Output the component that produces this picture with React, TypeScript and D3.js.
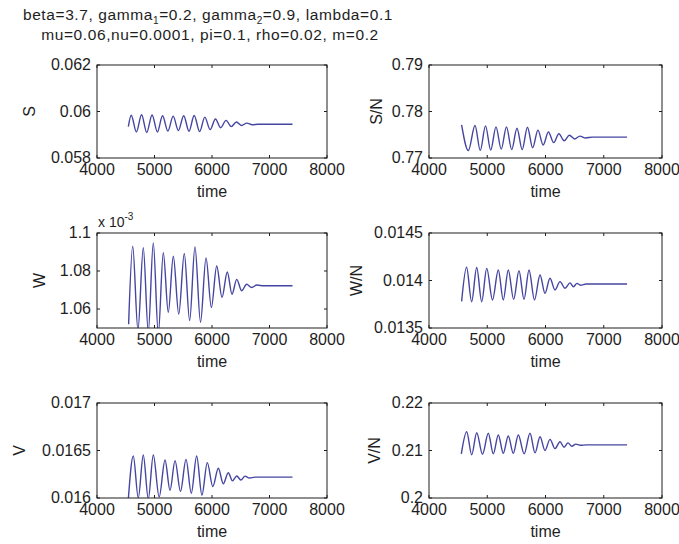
import React from 'react';
import * as d3 from 'd3';

const WIDTH = 679;
const HEIGHT = 544;

const timeTicks = [4000, 5000, 6000, 7000, 8000];

// S
const sTime = [4545, 4595, 4685, 4775, 4865, 4958, 5050, 5140, 5232, 5325, 5415, 5508, 5600, 5690, 5785, 5875, 5968, 6060, 6150, 6245, 6335, 6425, 6515, 6605, 6700, 6800, 7400];
const sValues = [0.05935, 0.05984, 0.05912, 0.05986, 0.0591, 0.05985, 0.05912, 0.05982, 0.05916, 0.0598, 0.05918, 0.05982, 0.05915, 0.05983, 0.05914, 0.05976, 0.05922, 0.05968, 0.0593, 0.05962, 0.05935, 0.05955, 0.0594, 0.0595, 0.05943, 0.05945, 0.05945];

// S/N
const snTime = [4560, 4675, 4790, 4880, 4970, 5060, 5150, 5240, 5330, 5420, 5510, 5600, 5690, 5780, 5870, 5960, 6050, 6140, 6230, 6320, 6410, 6500, 6590, 6690, 6800, 7400];
const snValues = [0.7771, 0.7716, 0.777, 0.7716, 0.7769, 0.7717, 0.7767, 0.7719, 0.7767, 0.7718, 0.7764, 0.7718, 0.7766, 0.7722, 0.776, 0.7728, 0.7756, 0.7733, 0.7752, 0.7737, 0.7749, 0.7741, 0.7747, 0.7743, 0.7745, 0.7745];

// W (x 10^-3)
const wTime = [4550, 4621, 4712, 4805, 4892, 4979, 5066, 5153, 5240, 5327, 5422, 5518, 5611, 5704, 5800, 5896, 5989, 6082, 6174, 6266, 6348, 6430, 6516, 6603, 6690, 6780, 6900, 7400];
const wValues = [1.052, 1.093, 1.049, 1.0922, 1.048, 1.0948, 1.047, 1.0896, 1.0582, 1.0878, 1.0573, 1.0892, 1.0539, 1.0927, 1.053, 1.0869, 1.0608, 1.0826, 1.0661, 1.0795, 1.0678, 1.0756, 1.0696, 1.073, 1.0713, 1.0726, 1.0722, 1.0722];

// W/N
const wnTime = [4560, 4645, 4732, 4819, 4905, 4991, 5090, 5190, 5275, 5361, 5453, 5545, 5631, 5717, 5811, 5906, 5991, 6077, 6163, 6249, 6335, 6421, 6480, 6540, 6600, 6700, 7400];
const wnValues = [0.01378, 0.01414, 0.013777, 0.014137, 0.013777, 0.014128, 0.013795, 0.01411, 0.013795, 0.01411, 0.013801, 0.014103, 0.013801, 0.01411, 0.013795, 0.014058, 0.013865, 0.014023, 0.0139, 0.013988, 0.013918, 0.013975, 0.013935, 0.01397, 0.01395, 0.013963, 0.013963];

// V
const vTime = [4545, 4631, 4718, 4805, 4892, 4979, 5081, 5183, 5270, 5357, 5452, 5548, 5640, 5733, 5825, 5918, 6014, 6110, 6196, 6283, 6356, 6430, 6502, 6574, 6650, 6750, 7400];
const vValues = [0.01599, 0.016442, 0.016, 0.016453, 0.01599, 0.016453, 0.01601, 0.0164, 0.01608, 0.016393, 0.01607, 0.016407, 0.01605, 0.016442, 0.01603, 0.016372, 0.01612, 0.016313, 0.01615, 0.016266, 0.01618, 0.016231, 0.01619, 0.01623, 0.01621, 0.01622, 0.01622];

// V/N
const vnTime = [4555, 4647, 4733, 4819, 4918, 5018, 5104, 5190, 5275, 5361, 5447, 5533, 5633, 5734, 5820, 5906, 5991, 6077, 6163, 6249, 6318, 6386, 6453, 6520, 6600, 6700, 7400];
const vnValues = [0.2093, 0.21396, 0.2091, 0.21375, 0.2092, 0.21362, 0.2093, 0.21326, 0.2094, 0.21305, 0.2094, 0.21326, 0.2093, 0.21362, 0.2095, 0.2129, 0.21, 0.21235, 0.2104, 0.21185, 0.2107, 0.2116, 0.2109, 0.21135, 0.2111, 0.21118, 0.21118];

const cols = [{ left: 97, right: 327 }, { left: 429, right: 662 }];
const rows = [{ top: 65, bottom: 158 }, { top: 233, bottom: 328 }, { top: 403, bottom: 498 }];

const panels = [
  { id: 's', label: 'S', time: sTime, values: sValues, domain: [0.058, 0.062], ticks: [0.058, 0.06, 0.062], col: 0, row: 0, labelX: 35 },
  { id: 'sn', label: 'S/N', time: snTime, values: snValues, domain: [0.77, 0.79], ticks: [0.77, 0.78, 0.79], col: 1, row: 0, labelX: 382 },
  { id: 'w', label: 'W', time: wTime, values: wValues, domain: [1.05, 1.1], ticks: [1.06, 1.08, 1.1], col: 0, row: 1, labelX: 45 },
  { id: 'wn', label: 'W/N', time: wnTime, values: wnValues, domain: [0.0135, 0.0145], ticks: [0.0135, 0.014, 0.0145], col: 1, row: 1, labelX: 362 },
  { id: 'v', label: 'V', time: vTime, values: vValues, domain: [0.016, 0.017], ticks: [0.016, 0.0165, 0.017], col: 0, row: 2, labelX: 25 },
  { id: 'vn', label: 'V/N', time: vnTime, values: vnValues, domain: [0.2, 0.22], ticks: [0.2, 0.21, 0.22], col: 1, row: 2, labelX: 380 },
];

const FONT = '"Liberation Sans", Arial, sans-serif';
const LINE_COLOR = '#4545a2';
const INK = '#1e1e1e';

function Panel({ p }) {
  const { left, right } = cols[p.col];
  const { top, bottom } = rows[p.row];
  const x = d3.scaleLinear().domain([4000, 8000]).range([left, right]);
  const y = d3.scaleLinear().domain(p.domain).range([bottom, top]);
  const line = d3.line<number>()
    .x((_, i) => x(p.time[i]))
    .y(d => y(d))
    .curve(d3.curveMonotoneX);
  const tickLen = 3;

  return (
    <g>
      <defs>
        <clipPath id={`clip-${p.id}`}>
          <rect x={left} y={top} width={right - left} height={bottom - top} />
        </clipPath>
      </defs>
      <path d={line(p.values) || ''} fill="none" stroke={LINE_COLOR} strokeWidth={1.4}
        clipPath={`url(#clip-${p.id})`} />
      {/* x ticks */}
      {timeTicks.map(t => (
        <g key={t}>
          <line x1={x(t)} x2={x(t)} y1={bottom} y2={bottom - tickLen} stroke={INK} />
          <line x1={x(t)} x2={x(t)} y1={top} y2={top + tickLen} stroke={INK} />
          <text x={x(t)} y={bottom + 17} textAnchor="middle" fontSize={16} fill={INK}>{t}</text>
        </g>
      ))}
      {/* y ticks */}
      {p.ticks.map(v => (
        <g key={v}>
          <line x1={left} x2={left + tickLen} y1={y(v)} y2={y(v)} stroke={INK} />
          <line x1={right} x2={right - tickLen} y1={y(v)} y2={y(v)} stroke={INK} />
          <text x={left - 6} y={y(v) + 5} textAnchor="end" fontSize={16} fill={INK}>{String(v)}</text>
        </g>
      ))}
      <rect x={left} y={top} width={right - left} height={bottom - top} fill="none" stroke={INK} strokeWidth={1} />
      <text x={(left + right) / 2} y={bottom + 39} textAnchor="middle" fontSize={16} fill={INK}>time</text>
      <text transform={`translate(${p.labelX},${(top + bottom) / 2}) rotate(-90)`} textAnchor="middle"
        fontSize={16} fill={INK}>{p.label}</text>
    </g>
  );
}

export default function App() {
  return (
    <svg width={WIDTH} height={HEIGHT} style={{ position: 'absolute', left: 0, top: 0, background: 'white' }}
      fontFamily={FONT}>
      <text x={208} y={20} textAnchor="middle" fontSize={15.5} letterSpacing={0.6} fill={INK}>
        beta=3.7, gamma<tspan fontSize={10} dy={4}>1</tspan>
        <tspan dy={-4}>=0.2, gamma</tspan><tspan fontSize={10} dy={4}>2</tspan>
        <tspan dy={-4}>=0.9, lambda=0.1</tspan>
      </text>
      <text x={210} y={40} textAnchor="middle" fontSize={15.5} letterSpacing={0.6} fill={INK}>
        mu=0.06,nu=0.0001, pi=0.1, rho=0.02, m=0.2
      </text>
      {panels.map(p => <Panel key={p.id} p={p} />)}
      <text x={98} y={227} fontSize={14} fill={INK}>
        x 10<tspan fontSize={10} dy={-7}>-3</tspan>
      </text>
    </svg>
  );
}
